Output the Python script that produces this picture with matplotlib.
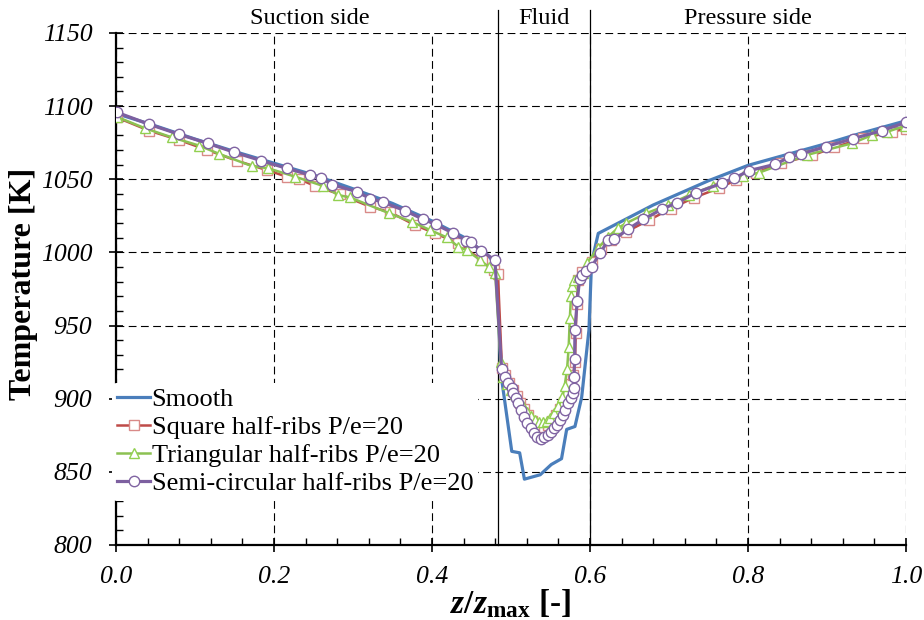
import numpy as np
import matplotlib
matplotlib.use("Agg")
import matplotlib.pyplot as plt
from matplotlib.ticker import MultipleLocator

plt.rcParams['font.family'] = ['Liberation Serif', 'DejaVu Serif']
plt.rcParams['mathtext.fontset'] = 'custom'
plt.rcParams['mathtext.it'] = 'Liberation Serif:italic:bold'
plt.rcParams['mathtext.rm'] = 'Liberation Serif:bold'
plt.rcParams['mathtext.bf'] = 'Liberation Serif:bold'

# DATA
# Smooth
x_smooth = [0.0, 0.05, 0.1, 0.15, 0.2, 0.25, 0.3, 0.35, 0.4, 0.44, 0.47, 0.482, 0.487,
            0.501, 0.511, 0.517, 0.537, 0.551, 0.564, 0.5705, 0.581, 0.5895, 0.5987,
            0.602, 0.6105, 0.68, 0.75, 0.8, 0.85, 0.9, 0.94, 1.0]
t_smooth = [1095, 1086.5, 1077.5, 1069, 1061, 1053, 1043.5, 1033.5, 1021.5, 1010.5, 998.5, 991, 918,
            864, 863, 845, 848, 855, 859, 879, 881, 901, 947,
            993, 1013, 1032.4, 1049, 1059.5, 1067, 1074.5, 1081, 1090]

# Square half-ribs
x_square = [0.001, 0.042, 0.080, 0.1156, 0.1528, 0.1908, 0.216, 0.2316, 0.2519, 0.2835,
            0.3215, 0.3468, 0.3785, 0.4038, 0.4333, 0.4629, 0.478, 0.4835,
            0.4886, 0.492, 0.497, 0.502, 0.507, 0.512, 0.517, 0.522, 0.527, 0.532,
            0.537, 0.542, 0.547, 0.552, 0.557, 0.562, 0.567, 0.572, 0.576, 0.579,
            0.581, 0.582, 0.583, 0.5853,
            0.590, 0.6025, 0.6135, 0.627, 0.6456, 0.6743, 0.7025, 0.7321, 0.7637,
            0.7848, 0.8101, 0.8418, 0.8810, 0.9093, 0.9452, 0.9823, 1.0]
t_square = [1092.3, 1083.2, 1076.8, 1070.0, 1062.7, 1056.3, 1051.8, 1050.2, 1045.4, 1039.7,
            1031.3, 1027.5, 1018.7, 1013.1, 1006.2, 994.8, 988, 985,
            921, 916, 911, 906, 902, 897, 893, 889, 885, 882,
            880.5, 880.5, 882, 885, 889, 893, 898, 904, 910, 916,
            925, 945, 965, 981,
            986.8, 993.6, 1002, 1008.5, 1014, 1022, 1030, 1037.5, 1044,
            1049.5, 1054.5, 1061, 1066.3, 1071.8, 1078, 1082.5, 1084.5]

# Triangular half-ribs
x_tri = [0.001, 0.0371, 0.0705, 0.1054, 0.1308, 0.1718, 0.1928, 0.2266, 0.2624, 0.2814,
         0.2962, 0.3460, 0.3743, 0.3975, 0.4186, 0.4333, 0.4439, 0.4608, 0.4725, 0.480,
         0.487, 0.490, 0.495, 0.500, 0.505, 0.510, 0.515, 0.520, 0.525, 0.530, 0.535,
         0.540, 0.545, 0.550, 0.555, 0.560, 0.565, 0.568, 0.571, 0.573, 0.5745, 0.576,
         0.5775, 0.580, 0.585,
         0.5912, 0.5965, 0.610, 0.6232, 0.635, 0.6456, 0.6709, 0.6984, 0.7257, 0.7553,
         0.7937, 0.8139, 0.8743, 0.9320, 0.9574, 0.9764, 0.999]
t_tri = [1092.7, 1084.8, 1078.7, 1073.0, 1067.3, 1059.1, 1057.5, 1051.8, 1045.4, 1039.2,
         1037.6, 1026.7, 1021.0, 1015.3, 1010.3, 1003.9, 1001.6, 994.8, 989.8, 986,
         925, 915, 910, 906, 903, 899, 895, 891, 888, 885.5, 884,
         884, 885, 887, 890, 895, 901, 909, 920, 935, 955, 970,
         977, 981, 983,
         986, 993, 1002.8, 1010.7, 1016.5, 1019.9, 1026.7, 1032.4, 1039.2, 1045.4,
         1052, 1054.5, 1066.6, 1074.6, 1080.3, 1082.5, 1086.5]

# Semi-circular half-ribs
x_semi = [0.001, 0.042, 0.080, 0.116, 0.150, 0.184, 0.216, 0.2456, 0.259, 0.274, 0.305,
          0.322, 0.338, 0.366, 0.389, 0.405, 0.427, 0.443, 0.449, 0.462, 0.4797,
          0.4882, 0.4924, 0.4966, 0.5009, 0.503, 0.5063, 0.5093, 0.5127, 0.5165, 0.5207,
          0.5249, 0.5291, 0.5333, 0.5376, 0.5422, 0.5464, 0.5506, 0.5548, 0.5582, 0.5620,
          0.5654, 0.5688, 0.5726, 0.5755, 0.5780, 0.5797, 0.5797, 0.5806, 0.5810,
          0.5839, 0.5869, 0.5903, 0.5945,
          0.602, 0.6127, 0.6232, 0.6308, 0.6485, 0.6675, 0.6915, 0.7105, 0.7342, 0.7667,
          0.7823, 0.8016, 0.8342, 0.8519, 0.8667, 0.8984, 0.9325, 0.9692, 1.0]
t_semi = [1095.8, 1087.6, 1080.7, 1074.6, 1068.4, 1062.7, 1057.5, 1052.9, 1051.1, 1046.3,
          1041.5, 1036.7, 1034.3, 1028.5, 1022.6, 1019.1, 1013.1, 1008.0, 1007.3, 1001.2,
          994.8,
          920.1, 915.0, 910.5, 907.1, 903.7, 900.3, 896.9, 892.3, 887.7, 883.2,
          879.8, 876.4, 873.6, 872.3, 873.6, 875.2, 877.4, 879.8, 882.0, 885.4,
          888.9, 892.3, 896.9, 900.3, 903.7, 907.1, 915.0, 926.9, 947.0,
          967.0, 981.8, 984.6, 987.5,
          990.2, 999.4, 1008.5, 1009.0, 1016.0, 1022.6, 1029.7, 1034.0, 1040.8, 1047.2,
          1050.7, 1055.9, 1060.2, 1065.0, 1067.3, 1072.3, 1077.7, 1083.2, 1088.9]

labels = ['Smooth', 'Square half-ribs P/e=20', 'Triangular half-ribs P/e=20',
          'Semi-circular half-ribs P/e=20']
regions = ['Suction side', 'Fluid', 'Pressure side']
region_x = [0.245, 0.542, 0.8]
walls = [0.4835, 0.6]

fig = plt.figure(figsize=(9.24, 6.2), dpi=100)
ax = fig.add_axes([0.1255, 0.121, 0.855, 0.8258])

ax.plot(x_smooth, t_smooth, '-', color='#4A7EBB', lw=2.3, label=labels[0], zorder=3)
ax.plot(x_square, t_square, '-', color='#BE4B48', lw=1.8, marker='s', ms=7,
        mfc='white', mec='#D98A88', mew=1.0, label=labels[1], zorder=4)
ax.plot(x_tri, t_tri, '-', color='#8CC152', lw=1.8, marker='^', ms=7.5,
        mfc='white', mec='#92D050', mew=1.0, label=labels[2], zorder=5)
ax.plot(x_semi, t_semi, '-', color='#7D60A0', lw=2.3, marker='o', ms=7.5,
        mfc='white', mec='#8064A2', mew=1.0, label=labels[3], zorder=6)

ax.set_xlim(0, 1.0)
ax.set_ylim(800, 1150)
ax.xaxis.set_major_locator(MultipleLocator(0.2))
ax.xaxis.set_minor_locator(MultipleLocator(0.04))
ax.yaxis.set_major_locator(MultipleLocator(50))
ax.yaxis.set_minor_locator(MultipleLocator(10))
ax.xaxis.set_major_formatter(plt.FuncFormatter(lambda v, p: '%.1f' % v))

ax.tick_params(which='major', direction='inout', length=10, width=1.2,
               labelsize=18.5)
ax.tick_params(axis='y', which='major', pad=12)
ax.tick_params(axis='x', which='major', pad=10)
ax.tick_params(which='minor', direction='in', length=5, width=1.0)
for lab in ax.get_xticklabels() + ax.get_yticklabels():
    lab.set_fontstyle('italic')

ax.grid(True, which='major', color='black', ls=(0, (7, 4)), lw=0.8)
for s in ['top', 'right']:
    ax.spines[s].set_visible(False)
for s in ['left', 'bottom']:
    ax.spines[s].set_linewidth(1.6)

for w in walls:
    ax.axvline(w, ymin=0, ymax=1.045, color='black', lw=0.9, clip_on=False, zorder=2)
for r, xr in zip(regions, region_x):
    ax.text(xr, 1.008, r, transform=ax.get_xaxis_transform(), ha='center',
            va='bottom', fontsize=17.5)

ax.set_ylabel('Temperature [K]', fontsize=23, fontweight='bold')
ax.yaxis.set_label_coords(-0.099, 0.51)
ax.set_xlabel(r'$z/z_{\rm max}$ [-]', fontsize=24, fontweight='bold', labelpad=0)

leg = ax.legend(loc='upper left', bbox_to_anchor=(-0.005, 0.317), frameon=True,
                fontsize=19, handlelength=1.25, handletextpad=0.05,
                labelspacing=0.17, borderpad=0.2, borderaxespad=0.0)
leg.get_frame().set_edgecolor('none')
leg.get_frame().set_facecolor('white')
leg.get_frame().set_alpha(1.0)
leg.set_zorder(10)

fig.savefig('out.png', dpi=100)
